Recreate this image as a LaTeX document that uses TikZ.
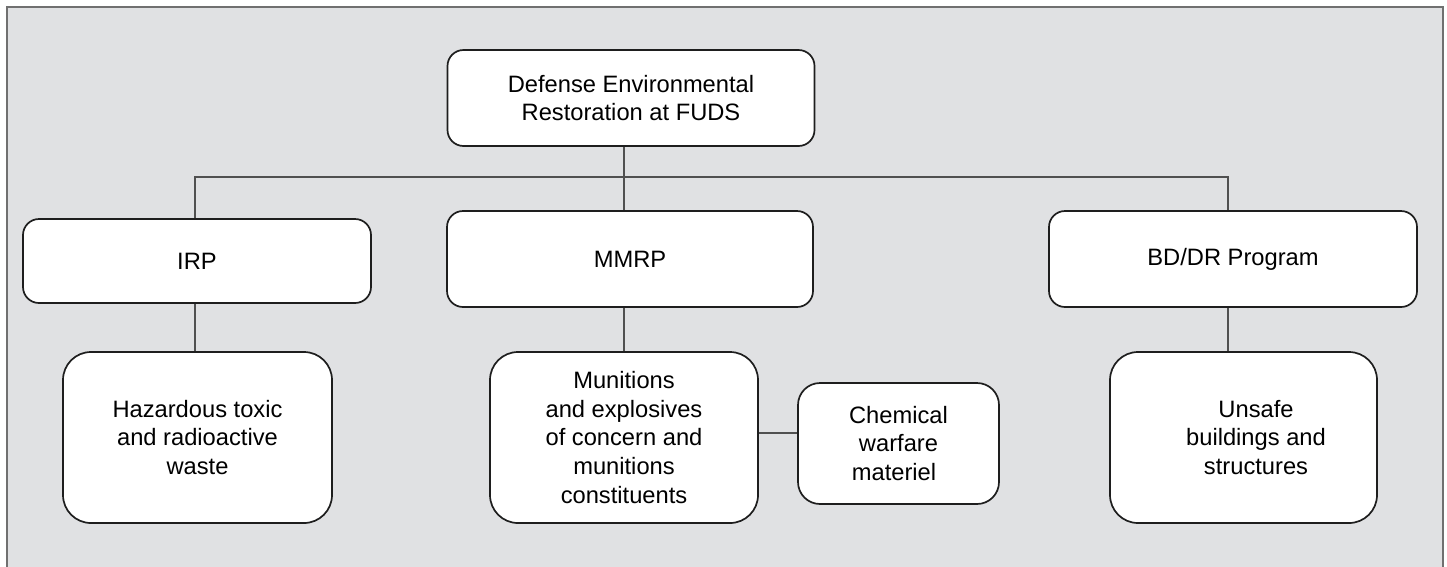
\documentclass[tikz,border=0pt]{standalone}
\usepackage{fontspec}
\setmainfont{Liberation Sans}
\definecolor{bgray}{HTML}{E0E1E3}
\definecolor{framec}{HTML}{707070}
\definecolor{boxline}{HTML}{1E1E1E}
\definecolor{connc}{HTML}{505050}
\tikzset{
  x=1pt,y=-1pt,
  box/.style={draw=boxline, line width=1.7pt, fill=white, inner sep=0pt, align=center,
     font=\fontsize{23.7}{28.7}\selectfont, text=black},
  smallbox/.style={box, rounded corners=16pt},
  bigbox/.style={box, rounded corners=28pt},
  chembox/.style={box, rounded corners=22pt},
  conn/.style={draw=connc, line width=1.3pt},
}
\begin{document}
\begin{tikzpicture}
\useasboundingbox (0,0) rectangle (1447,566);
\fill[white] (0,0) rectangle (1447,566);
\fill[bgray] (7,7) rectangle (1443,570);
\draw[framec, line width=2pt] (7,570) -- (7,7) -- (1443,7) -- (1443,570);

\node[smallbox, minimum width=367pt, minimum height=96pt] (top) at (631,98) {Defense Environmental\\Restoration at FUDS};
\node[smallbox, minimum width=348pt, minimum height=84pt] (irp) at (197,261) {IRP};
\node[smallbox, minimum width=366pt, minimum height=96pt] (mmrp) at (630,259) {MMRP};
\node[smallbox, minimum width=368pt, minimum height=96pt] (bdr) at (1233,259) {BD/DR Program};
\node[bigbox, minimum width=269pt, minimum height=171pt] (haz) at (197.5,437.5) {Hazardous toxic\\and radioactive\\waste};
\node[bigbox, minimum width=268pt, minimum height=171pt] (mun) at (624,437.5) {Munitions\\and explosives\\of concern and\\munitions\\constituents};
\node[chembox, minimum width=201pt, minimum height=121pt] (chem) at (898.5,443.5) {Chemical\\warfare\\materiel\hspace*{9pt}};
\node[bigbox, minimum width=267pt, minimum height=171pt] (uns) at (1243.5,437.5) {\hspace*{25pt}Unsafe\\\hspace*{25pt}buildings and\\\hspace*{25pt}structures};

\coordinate (bus) at (624,177);
\coordinate (b1) at (195,177);
\coordinate (b3) at (1228,177);
\coordinate (cy) at (0,433);
\draw[conn] (top.south -| bus) -- (bus |- mmrp.north);
\draw[conn] (b1 |- irp.north) -- (b1) -- (b3) -- (b3 |- bdr.north);
\draw[conn] (irp.south -| b1) -- (haz.north -| b1);
\draw[conn] (mmrp.south -| bus) -- (mun.north -| bus);
\draw[conn] (bdr.south -| b3) -- (uns.north -| b3);
\draw[conn] (mun.east |- cy) -- (chem.west |- cy);
\end{tikzpicture}
\end{document}
